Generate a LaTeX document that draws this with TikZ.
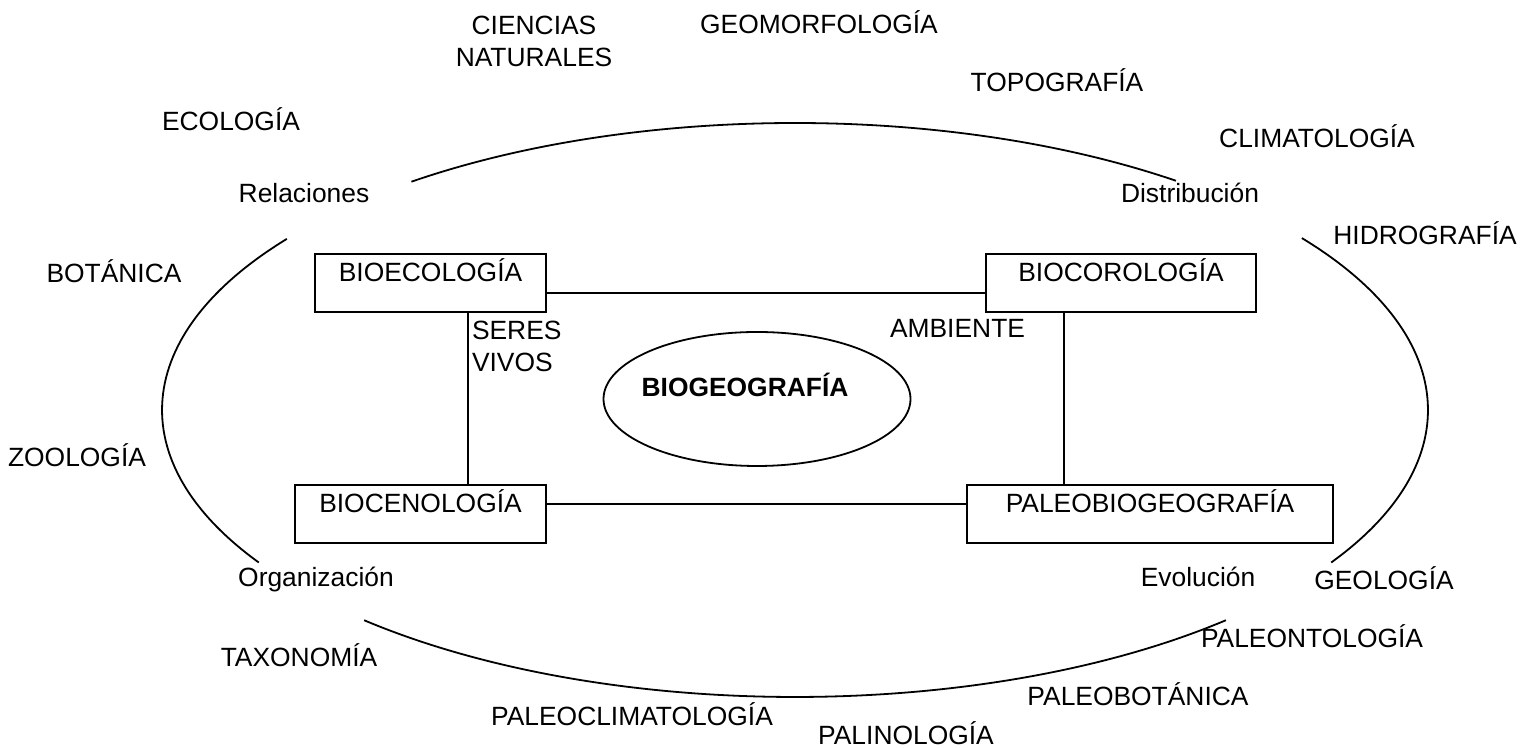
\documentclass[tikz,border=0pt]{standalone}
\usepackage{fontspec}
\setmainfont{Liberation Sans}
\usetikzlibrary{shapes.geometric}

\begin{document}
\begin{tikzpicture}[x=0.5pt,y=0.5pt,
  every node/.style={inner sep=0pt, outer sep=0pt, font=\fontsize{13.2pt}{16pt}\selectfont},
  term/.style={anchor=base},
  field/.style={draw, line width=0.9pt, rectangle, minimum height=29pt,
                text height=14pt, text depth=15pt},
  core/.style={draw, line width=0.9pt, ellipse, minimum width=153.5pt, minimum height=67pt},
  link/.style={line width=0.9pt},
  rim/.style={line width=0.9pt}
]
\useasboundingbox (0,0) rectangle (1535,748);

% outer ring, broken into four arcs
\coordinate (ring) at (795,338);
\draw[rim] (ring) ++(127.3:316.5pt and 143.5pt) arc[start angle=127.3, end angle=53.0, x radius=316.5pt, y radius=143.5pt];
\draw[rim] (ring) ++(36.8:316.5pt and 143.5pt) arc[start angle=36.8, end angle=-32.1, x radius=316.5pt, y radius=143.5pt];
\draw[rim] (ring) ++(-47.1:316.5pt and 143.5pt) arc[start angle=-47.1, end angle=-132.9, x radius=316.5pt, y radius=143.5pt];
\draw[rim] (ring) ++(212.1:316.5pt and 143.5pt) arc[start angle=212.1, end angle=143.4, x radius=316.5pt, y radius=143.5pt];

% four branches
\node[field, minimum width=115.5pt] (bioeco) at (430.5,465) {BIOECOLOGÍA};
\node[field, minimum width=135pt] (biocoro) at (1121,465) {BIOCOROLOGÍA};
\node[field, minimum width=125.5pt] (bioceno) at (420.5,234) {BIOCENOLOGÍA};
\node[field, minimum width=183pt] (paleo) at (1150,234) {PALEOBIOGEOGRAFÍA};

% centre
\node[core] (bio) at (757,349) {};
\node[term, font=\fontsize{13.2pt}{16pt}\selectfont\bfseries] (biotxt) at (745,351) {BIOGEOGRAFÍA};

% connectors between branches
\draw[link] ([yshift=-5pt]bioeco.east) -- ([yshift=-5pt]biocoro.west);
\draw[link] ([yshift=5pt]bioceno.east) -- ([yshift=5pt]paleo.west);
\draw[link] ([xshift=18.75pt]bioeco.south) -- ([xshift=18.75pt]bioeco.south |- bioceno.north);
\draw[link] ([xshift=-28.5pt]biocoro.south) -- ([xshift=-28.5pt]biocoro.south |- paleo.north);

% labels along the links (base anchor sits on the last line)
\node[anchor=base west, align=left] (seres) at (472,376) {SERES\\VIVOS};
\node[term] (ambiente) at (957.5,410) {AMBIENTE};

% labels on the ring
\node[term] (relac) at (304,545) {Relaciones};
\node[term] (distr) at (1190,545) {Distribución};
\node[term] (organ) at (316,161) {Organización};
\node[term] (evol) at (1198,161) {Evolución};

% related sciences
\node[anchor=base, align=center] (cienc) at (534,681) {CIENCIAS\\NATURALES};
\node[term] (geomorf) at (819,714) {GEOMORFOLOGÍA};
\node[term] (topo) at (1057,656) {TOPOGRAFÍA};
\node[term] (ecol) at (231,617) {ECOLOGÍA};
\node[term] (clima) at (1317,600) {CLIMATOLOGÍA};
\node[term] (hidro) at (1425,503) {HIDROGRAFÍA};
\node[term] (botan) at (114,465) {BOTÁNICA};
\node[term] (zool) at (77,281) {ZOOLOGÍA};
\node[term] (geol) at (1384,158) {GEOLOGÍA};
\node[term] (taxo) at (299,81) {TAXONOMÍA};
\node[term] (paleont) at (1312,100) {PALEONTOLOGÍA};
\node[term] (paleobot) at (1138,42) {PALEOBOTÁNICA};
\node[term] (paleoclim) at (632,22) {PALEOCLIMATOLOGÍA};
\node[term] (palino) at (906,3) {PALINOLOGÍA};
\end{tikzpicture}
\end{document}
